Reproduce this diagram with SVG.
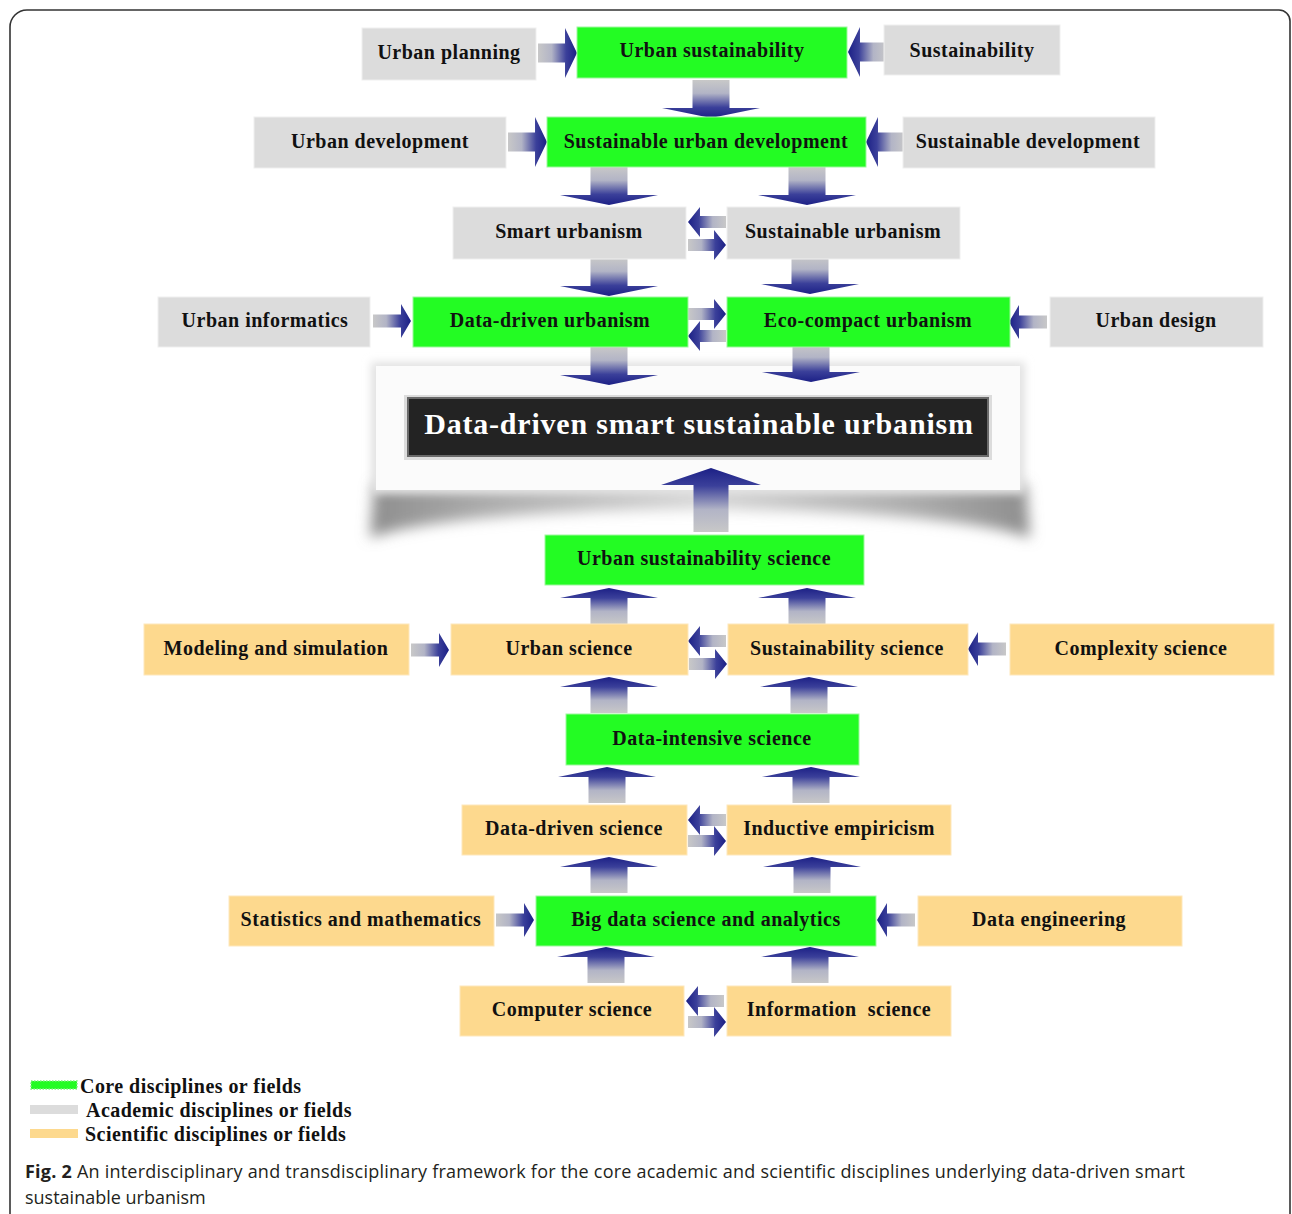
<svg xmlns="http://www.w3.org/2000/svg" width="1292" height="1214" viewBox="0 0 1292 1214">
<style>
.lbl{font-family:"Liberation Serif","Times New Roman",serif;font-weight:bold;font-size:20px;fill:#111;text-anchor:middle;letter-spacing:0.5px}
.g{fill:#23fc23;stroke:#9ef79e;stroke-width:1}
.a{fill:#dcdcdc;stroke:#efefef;stroke-width:1}
.s{fill:#fdd98e;stroke:#fee7bb;stroke-width:1}
.leg{font-family:"Liberation Serif","Times New Roman",serif;font-weight:bold;font-size:20px;fill:#111;letter-spacing:0.45px}
.cap{font-family:"Open Sans","Noto Sans",sans-serif;font-size:18px;fill:#231f20}
</style>
<defs>
<linearGradient id="gR" x1="0" y1="0" x2="1" y2="0"><stop offset="0" stop-color="#c8c8c8"/><stop offset="0.35" stop-color="#b2b4c6"/><stop offset="0.72" stop-color="#3b409a"/><stop offset="1" stop-color="#1c2086"/></linearGradient>
<linearGradient id="gL" x1="1" y1="0" x2="0" y2="0"><stop offset="0" stop-color="#c8c8c8"/><stop offset="0.35" stop-color="#b2b4c6"/><stop offset="0.72" stop-color="#3b409a"/><stop offset="1" stop-color="#1c2086"/></linearGradient>
<linearGradient id="gD" x1="0" y1="0" x2="0" y2="1"><stop offset="0" stop-color="#c8c8c8"/><stop offset="0.35" stop-color="#b2b4c6"/><stop offset="0.72" stop-color="#3b409a"/><stop offset="1" stop-color="#1c2086"/></linearGradient>
<linearGradient id="gU" x1="0" y1="1" x2="0" y2="0"><stop offset="0" stop-color="#c8c8c8"/><stop offset="0.35" stop-color="#b2b4c6"/><stop offset="0.72" stop-color="#3b409a"/><stop offset="1" stop-color="#1c2086"/></linearGradient>
<linearGradient id="gShadow" x1="0" y1="0" x2="1" y2="0"><stop offset="0" stop-color="#8e8e8e"/><stop offset="0.18" stop-color="#adadad"/><stop offset="0.5" stop-color="#d8d8d8"/><stop offset="0.82" stop-color="#adadad"/><stop offset="1" stop-color="#8e8e8e"/></linearGradient>
<filter id="blur" x="-10%" y="-60%" width="120%" height="220%"><feGaussianBlur stdDeviation="7"/></filter>
<filter id="blur2" x="-10%" y="-20%" width="120%" height="140%"><feGaussianBlur stdDeviation="4"/></filter>
<path id="RB" fill="url(#gR)" d="M-39,-9.5H-12V-25L0,0L-12,25V9.5H-39Z"/>
<path id="LB" fill="url(#gL)" d="M39,-9.5H12V-25L0,0L12,25V9.5H39Z"/>
<path id="RM" fill="url(#gR)" d="M-38,-6.5H-10V-17L0,0L-10,17V6.5H-38Z"/>
<path id="LM" fill="url(#gL)" d="M38,-6.5H10V-17L0,0L10,17V6.5H38Z"/>
<path id="RS" fill="url(#gR)" d="M-38,-6H-12V-15L0,0L-12,15V6H-38Z"/>
<path id="LS" fill="url(#gL)" d="M38,-6H12V-15L0,0L12,15V6H38Z"/>
<path id="D" fill="url(#gD)" d="M-18.5,-38H18.5V-10H49L0,0L-49,-10H-18.5Z"/>
<path id="U" fill="url(#gU)" d="M-18.5,36H18.5V10H49L0,0L-49,10H-18.5Z"/>
<path id="UB" fill="url(#gU)" d="M-17.5,64H17.5V17H50L0,0L-50,17H-17.5Z"/>
</defs>
<rect width="1292" height="1214" fill="#ffffff"/>
<path d="M10,1214V27A17,17 0 0 1 27,10H1279A11,11 0 0 1 1290,21V1214" fill="none" stroke="#333" stroke-width="1.6"/>

<g id="central-panel">
<path d="M374,484H1026L1030,538C930,500 470,500 370,538Z" fill="url(#gShadow)" filter="url(#blur)"/>
<rect x="371" y="362" width="654" height="132" fill="#e2e2e2" filter="url(#blur2)"/>
<rect x="376" y="366" width="644" height="124" fill="#fbfbfb"/>
<rect x="404" y="395" width="588" height="65" fill="#dcdcdc"/>
<rect x="408" y="398" width="580" height="58" fill="#232323" stroke="#6a6a6a" stroke-width="2"/>
<text x="699" y="434" font-family="Liberation Serif, Times New Roman, serif" font-weight="bold" font-size="30" fill="#ffffff" text-anchor="middle" letter-spacing="0.8">Data-driven smart sustainable urbanism</text>
</g>

<g id="connectors">
<use href="#RB" x="577" y="53"/>
<use href="#LB" x="848" y="52"/>
<use href="#D" x="711" y="118"/>
<use href="#RB" x="547" y="142"/>
<use href="#LB" x="866" y="142"/>
<use href="#D" x="609" y="205"/>
<use href="#D" x="807" y="205"/>
<use href="#LS" x="688" y="222"/>
<use href="#RS" x="726" y="245"/>
<use href="#D" x="609" y="296"/>
<use href="#D" x="810" y="294"/>
<use href="#RM" x="411" y="321"/>
<use href="#RS" x="726" y="314"/>
<use href="#LS" x="688" y="336"/>
<use href="#LM" x="1009" y="322"/>
<use href="#D" x="609" y="385"/>
<use href="#D" x="811" y="382"/>
<use href="#UB" x="711" y="468"/>
<use href="#U" x="609" y="588"/>
<use href="#U" x="807" y="588"/>
<use href="#RM" x="449" y="650"/>
<use href="#LS" x="688" y="641"/>
<use href="#RS" x="727" y="664"/>
<use href="#LM" x="968" y="649"/>
<use href="#U" x="609" y="677"/>
<use href="#U" x="809" y="677"/>
<use href="#U" x="607" y="767"/>
<use href="#U" x="811" y="767"/>
<use href="#LS" x="688" y="820"/>
<use href="#RS" x="726" y="841"/>
<use href="#U" x="609" y="857"/>
<use href="#U" x="812" y="857"/>
<use href="#RM" x="534" y="920"/>
<use href="#LM" x="877" y="920"/>
<use href="#U" x="606" y="947"/>
<use href="#U" x="810" y="947"/>
<use href="#LS" x="686" y="1001"/>
<use href="#RS" x="726" y="1022"/>
</g>

<g id="urban-planning"><rect class="a" x="362" y="28" width="174" height="52"/><text class="lbl" x="449" y="59">Urban planning</text></g>
<g id="urban-sustainability"><rect class="g" x="577" y="27" width="270" height="51"/><text class="lbl" x="712" y="57">Urban sustainability</text></g>
<g id="sustainability"><rect class="a" x="884" y="25" width="176" height="50"/><text class="lbl" x="972" y="57">Sustainability</text></g>
<g id="urban-development"><rect class="a" x="254" y="117" width="252" height="51"/><text class="lbl" x="380" y="148">Urban development</text></g>
<g id="sustainable-urban-development"><rect class="g" x="547" y="117" width="319" height="50"/><text class="lbl" x="706" y="148">Sustainable urban development</text></g>
<g id="sustainable-development"><rect class="a" x="903" y="117" width="252" height="51"/><text class="lbl" x="1028" y="148">Sustainable development</text></g>
<g id="smart-urbanism"><rect class="a" x="453" y="207" width="233" height="52"/><text class="lbl" x="569" y="238">Smart urbanism</text></g>
<g id="sustainable-urbanism"><rect class="a" x="727" y="207" width="233" height="52"/><text class="lbl" x="843" y="238">Sustainable urbanism</text></g>
<g id="urban-informatics"><rect class="a" x="158" y="297" width="212" height="50"/><text class="lbl" x="265" y="327">Urban informatics</text></g>
<g id="data-driven-urbanism"><rect class="g" x="413" y="297" width="275" height="50"/><text class="lbl" x="550" y="327">Data-driven urbanism</text></g>
<g id="eco-compact-urbanism"><rect class="g" x="727" y="297" width="283" height="50"/><text class="lbl" x="868" y="327">Eco-compact urbanism</text></g>
<g id="urban-design"><rect class="a" x="1050" y="297" width="213" height="50"/><text class="lbl" x="1156" y="327">Urban design</text></g>
<g id="urban-sustainability-science"><rect class="g" x="545" y="535" width="319" height="50"/><text class="lbl" x="704" y="565">Urban sustainability science</text></g>
<g id="modeling-and-simulation"><rect class="s" x="144" y="624" width="265" height="51"/><text class="lbl" x="276" y="655">Modeling and simulation</text></g>
<g id="urban-science"><rect class="s" x="451" y="624" width="237" height="51"/><text class="lbl" x="569" y="655">Urban science</text></g>
<g id="sustainability-science"><rect class="s" x="728" y="624" width="240" height="51"/><text class="lbl" x="847" y="655">Sustainability science</text></g>
<g id="complexity-science"><rect class="s" x="1010" y="624" width="264" height="51"/><text class="lbl" x="1141" y="655">Complexity science</text></g>
<g id="data-intensive-science"><rect class="g" x="566" y="714" width="293" height="51"/><text class="lbl" x="712" y="745">Data-intensive science</text></g>
<g id="data-driven-science"><rect class="s" x="462" y="805" width="225" height="50"/><text class="lbl" x="574" y="835">Data-driven science</text></g>
<g id="inductive-empiricism"><rect class="s" x="727" y="805" width="224" height="50"/><text class="lbl" x="839" y="835">Inductive empiricism</text></g>
<g id="statistics-and-mathematics"><rect class="s" x="229" y="896" width="265" height="50"/><text class="lbl" x="361" y="926">Statistics and mathematics</text></g>
<g id="big-data-science"><rect class="g" x="536" y="896" width="340" height="50"/><text class="lbl" x="706" y="926">Big data science and analytics</text></g>
<g id="data-engineering"><rect class="s" x="918" y="896" width="264" height="50"/><text class="lbl" x="1049" y="926">Data engineering</text></g>
<g id="computer-science"><rect class="s" x="460" y="986" width="224" height="50"/><text class="lbl" x="572" y="1016">Computer science</text></g>
<g id="information-science"><rect class="s" x="727" y="986" width="224" height="50"/><text class="lbl" x="839" y="1016" style="white-space:pre">Information  science</text></g>

<g id="legend">
<rect x="31" y="1081" width="46" height="8" fill="#23fc23" stroke="#7ef27e" stroke-width="1.5" stroke-dasharray="1.5 1.5"/>
<text class="leg" x="80" y="1093">Core disciplines or fields</text>
<rect x="30" y="1105" width="48" height="9" fill="#dcdcdc"/>
<text class="leg" x="86" y="1117">Academic disciplines or fields</text>
<rect x="30" y="1129" width="48" height="9" fill="#fdd98e"/>
<text class="leg" x="85" y="1141">Scientific disciplines or fields</text>
</g>

<g id="caption">
<text class="cap" x="25" y="1178" textLength="1160" lengthAdjust="spacing"><tspan font-weight="bold">Fig. 2</tspan> An interdisciplinary and transdisciplinary framework for the core academic and scientific disciplines underlying data-driven smart</text>
<text class="cap" x="25" y="1204">sustainable urbanism</text>
</g>
</svg>
